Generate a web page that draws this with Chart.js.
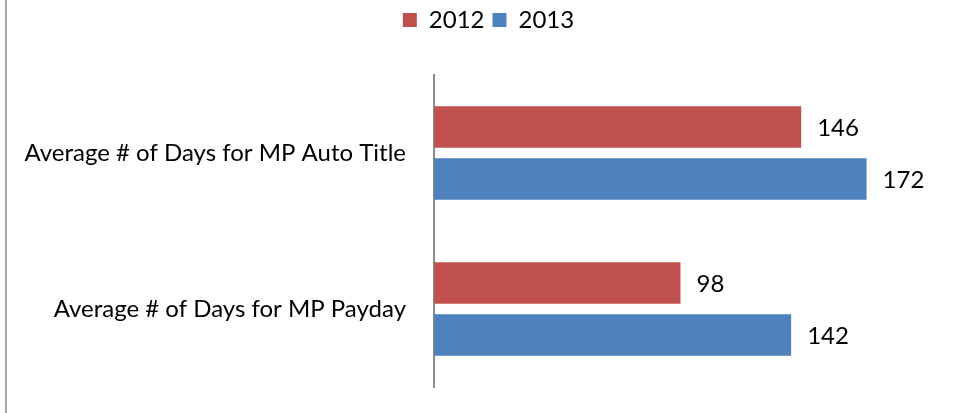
<!DOCTYPE html>
<html>
<head>
<meta charset="utf-8">
<script src="https://cdn.jsdelivr.net/npm/chart.js@4"></script>
<style>
  html, body { margin: 0; padding: 0; background: #fff; }
  #wrap { width: 953px; height: 413px; }
</style>
</head>
<body>
<div id="wrap"><canvas id="chart" width="953" height="413"></canvas></div>
<script>
// chart data
const categories = ['Average # of Days for MP Auto Title', 'Average # of Days for MP Payday'];
const seriesNames = ['2012', '2013'];
const values2012 = [146, 98];
const values2013 = [172, 142];
const seriesColors = ['#C0504D', '#4F81BD'];

const FONT = 'Lato';
const FONT_SIZE = 24;
const AXIS_X = 434;
const LEGEND_GAP = 33;
const LEGEND_SHIFT = 20;

// value labels at the end of each bar
const valueLabels = {
    id: 'valueLabels',
    afterDatasetsDraw(chart) {
        const ctx = chart.ctx;
        ctx.save();
        ctx.font = FONT_SIZE + 'px ' + FONT;
        ctx.fillStyle = '#000';
        ctx.textAlign = 'left';
        ctx.textBaseline = 'middle';
        chart.data.datasets.forEach((ds, i) => {
            const meta = chart.getDatasetMeta(i);
            meta.data.forEach((bar, j) => {
                ctx.fillText(String(ds.data[j]), bar.x + 16, bar.y + 1);
            });
        });
        ctx.restore();
    }
};

// thin grey frame line on the left edge
const frameLine = {
    id: 'frameLine',
    beforeDraw(chart) {
        const ctx = chart.ctx;
        ctx.save();
        ctx.fillStyle = '#a6a6a6';
        ctx.fillRect(5, 0, 2, chart.height);
        ctx.restore();
    }
};

// extra space between legend and plot, legend nudged right like the original
const legendGap = {
    id: 'legendGap',
    beforeInit(chart) {
        const fit = chart.legend.fit;
        chart.legend.fit = function () {
            fit.call(this);
            this.height += LEGEND_GAP;
        };
    },
    afterLayout(chart) {
        chart.legend.left += LEGEND_SHIFT;
        chart.legend.right += LEGEND_SHIFT;
    }
};

const ctx = document.getElementById('chart').getContext('2d');
new Chart(ctx, {
    type: 'bar',
    data: {
        labels: categories,
        datasets: [
            { label: seriesNames[0], data: values2012, backgroundColor: seriesColors[0] },
            { label: seriesNames[1], data: values2013, backgroundColor: seriesColors[1] }
        ]
    },
    options: {
        indexAxis: 'y',
        responsive: false,
        animation: false,
        categoryPercentage: 0.667,
        barPercentage: 0.795,
        layout: { padding: { top: 0, right: 16, bottom: 26, left: 0 } },
        scales: {
            x: { min: 0, max: 200, display: false },
            y: {
                grid: { display: false, drawTicks: false },
                border: { display: true, color: '#8c8c8c', width: 2 },
                ticks: { color: '#000', padding: 28, font: { family: FONT, size: FONT_SIZE } },
                afterFit(scale) {
                    scale.width = AXIS_X;
                    scale.paddingTop = 0;
                    scale.paddingBottom = 0;
                }
            }
        },
        plugins: {
            legend: {
                position: 'top',
                labels: {
                    boxWidth: 14,
                    boxHeight: 14,
                    padding: 8,
                    color: '#000',
                    font: { family: FONT, size: FONT_SIZE }
                }
            },
            tooltip: { enabled: false }
        }
    },
    plugins: [valueLabels, frameLine, legendGap]
});
</script>
</body>
</html>
